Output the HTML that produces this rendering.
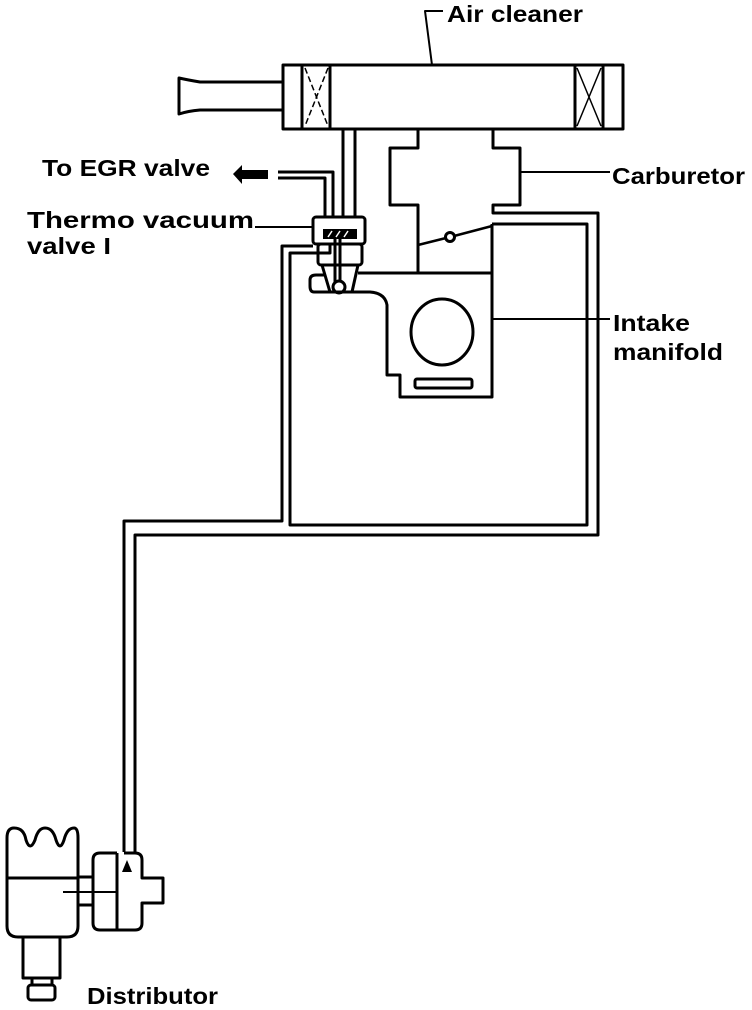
<!DOCTYPE html>
<html><head><meta charset="utf-8"><style>
html,body{margin:0;padding:0;background:#fff;}
svg{display:block;}
text{font-family:"Liberation Sans",Arial,sans-serif;font-weight:bold;font-size:23px;fill:#000;}
</style></head><body>
<svg width="752" height="1010" viewBox="0 0 752 1010" xmlns="http://www.w3.org/2000/svg">
<g fill="none" stroke="#000" stroke-width="3" stroke-linejoin="round">
<rect x="283" y="65" width="340" height="64"/>
<line x1="302" y1="65" x2="302" y2="129"/><line x1="330" y1="65" x2="330" y2="129"/>
<line x1="575" y1="65" x2="575" y2="129"/><line x1="603" y1="65" x2="603" y2="129"/>
<path d="M305 68 L328 126 M328 68 L305 126" stroke-width="1.5" stroke-dasharray="6 3"/>
<path d="M577 68 L601 126 M601 68 L577 126" stroke-width="1.5"/>
<path d="M283 82 L200 82 Q188 80 179 78 L179 114 Q188 111 200 110 L283 110"/>
<path d="M432 65 L425 11 L443 11" stroke-width="2"/>
<line x1="343" y1="129" x2="343" y2="217"/><line x1="355" y1="129" x2="355" y2="217"/>
<path d="M278 172 L333 172 L333 217"/><path d="M278 178 L325 178 L325 217"/>
<rect x="313" y="217" width="52" height="27" rx="3"/>
<rect x="318" y="244" width="44" height="21" rx="3"/>
<path d="M322 265 L330 292 L352 292 L358 265"/>
<path d="M330 292 L314 292 Q310 292 310 286 L310 280 Q310 275 316 275 L325 275"/>
<line x1="340" y1="239" x2="340" y2="282"/>
<line x1="335" y1="239" x2="335" y2="282"/>
<circle cx="339" cy="287" r="6"/>
<line x1="255" y1="227" x2="313" y2="227" stroke-width="2"/>
<path d="M418 129 L418 148 L390 148 L390 205 L418 205 L418 272"/>
<path d="M493 129 L493 148 L520 148 L520 205 L493 205 L493 213 L598 213 L598 535 L135 535 L135 852"/>
<line x1="520" y1="172" x2="610" y2="172" stroke-width="2"/>
<path d="M418 245 L446 238 M454 236 L492 226" stroke-width="2.5"/>
<circle cx="450" cy="237" r="4.5"/>
<line x1="358" y1="273" x2="492" y2="273"/>
<path d="M492 224 L492 397 L400 397 L400 375 L387 375 L387 305 Q385 293 370 292 L352 292"/>
<ellipse cx="442" cy="332" rx="31" ry="33"/>
<rect x="415" y="379" width="57" height="9" rx="2"/>
<line x1="492" y1="319" x2="610" y2="319" stroke-width="2"/>
<path d="M492 224 L587 224 L587 525 L290 525 L290 253 L330 253 L330 244"/>
<path d="M313 246 L282 246 L282 521 L124 521 L124 852"/>
<path d="M7 878 L7 838 Q7 828 14 828 Q24 828 26 840 Q30 852 35 840 Q38 828 45 828 Q53 828 56 840 Q60 852 64 840 Q67 828 74 828 Q78 828 78 838 L78 878 Z"/>
<path d="M7 878 L7 926 Q7 937 18 937 L67 937 Q78 937 78 926 L78 878"/>
<rect x="23" y="937" width="37" height="41"/>
<path d="M32 978 L32 985 M52 978 L52 985"/>
<rect x="28" y="985" width="27" height="15" rx="3"/>
<path d="M78 877 L93 877 M78 905 L93 905"/>
<path d="M117 853 L100 853 Q93 853 93 860 L93 923 Q93 930 100 930 L117 930 L135 930 Q142 930 142 923 L142 903 L163 903 L163 878 L142 878 L142 860 Q142 853 135 853 L124 853"/>
<line x1="117" y1="853" x2="117" y2="930"/>
<line x1="63" y1="892" x2="117" y2="892" stroke-width="2"/>
</g>
<path d="M233 174 L242 165 L242 170 L268 170 L268 179 L242 179 L242 184 Z" fill="#000"/>
<rect x="323" y="229" width="34" height="10" fill="#000"/>
<path d="M328 237 L332 231 M336 237 L340 231 M344 237 L348 231" stroke="#fff" stroke-width="1.5"/>
<path d="M122 872 L127 860 L132 872 Z" fill="#000"/>
<text x="447" y="22" textLength="136" lengthAdjust="spacingAndGlyphs">Air cleaner</text>
<text x="42" y="176" textLength="168" lengthAdjust="spacingAndGlyphs">To EGR valve</text>
<text x="612" y="184" textLength="133" lengthAdjust="spacingAndGlyphs">Carburetor</text>
<text x="27" y="228" textLength="227" lengthAdjust="spacingAndGlyphs">Thermo vacuum</text>
<text x="27" y="254" textLength="84" lengthAdjust="spacingAndGlyphs">valve I</text>
<text x="613" y="331" textLength="77" lengthAdjust="spacingAndGlyphs">Intake</text>
<text x="613" y="360" textLength="110" lengthAdjust="spacingAndGlyphs">manifold</text>
<text x="87" y="1004" textLength="131" lengthAdjust="spacingAndGlyphs">Distributor</text>
</svg>
</body></html>
